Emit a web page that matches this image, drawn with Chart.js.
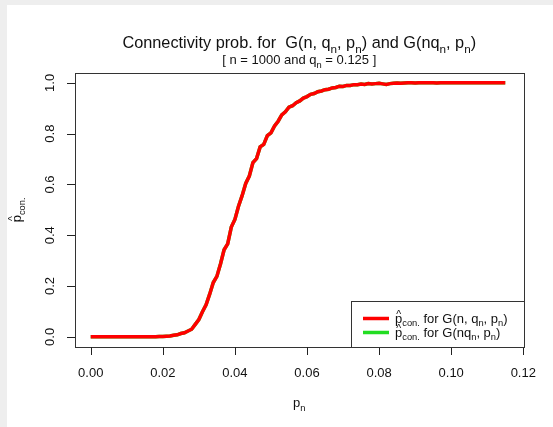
<!DOCTYPE html>
<html>
<head>
<meta charset="utf-8">
<script src="https://cdn.jsdelivr.net/npm/chart.js@4.4.0/dist/chart.umd.min.js"></script>
<style>
html,body{margin:0;padding:0;background:#fff;}
#wrap{width:553px;height:427px;position:relative;}
</style>
</head>
<body>
<div id="wrap"><canvas id="c" width="553" height="427"></canvas></div>
<script>
// ---- data ----
const pValues = [
 0.000,0.001,0.002,0.003,0.004,0.005,0.006,0.007,0.008,0.009,
 0.010,0.011,0.012,0.013,0.014,0.015,0.016,0.017,0.018,0.019,
 0.020,0.021,0.022,0.023,0.024,0.025,0.026,0.027,0.028,0.029,
 0.030,0.031,0.032,0.033,0.034,0.035,0.036,0.037,0.038,0.039,
 0.040,0.041,0.042,0.043,0.044,0.045,0.046,0.047,0.048,0.049,
 0.050,0.051,0.052,0.053,0.054,0.055,0.056,0.057,0.058,0.059,
 0.060,0.061,0.062,0.063,0.064,0.065,0.066,0.067,0.068,0.069,
 0.070,0.071,0.072,0.073,0.074,0.075,0.076,0.077,0.078,0.079,
 0.080,0.081,0.082,0.083,0.084,0.085,0.086,0.087,0.088,0.089,
 0.090,0.091,0.092,0.093,0.094,0.095,0.096,0.097,0.098,0.099,
 0.100,0.101,0.102,0.103,0.104,0.105,0.106,0.107,0.108,0.109,
 0.110,0.111,0.112,0.113,0.114,0.115
];
const conProbG = [
 0,0,0,0,0,0,0,0,0,0,
 0,0,0,0,0,0,0,0,0,0.001,
 0.001,0.002,0.003,0.006,0.008,0.013,0.016,0.023,0.030,0.049,
 0.068,0.099,0.126,0.168,0.214,0.238,0.287,0.343,0.366,0.432,
 0.462,0.514,0.556,0.604,0.633,0.686,0.702,0.748,0.758,0.792,
 0.803,0.830,0.849,0.874,0.886,0.904,0.910,0.922,0.929,0.940,
 0.946,0.955,0.958,0.965,0.968,0.973,0.975,0.980,0.982,0.987,
 0.986,0.990,0.990,0.993,0.993,0.995,0.994,0.997,0.996,0.997,
 0.998,0.996,0.994,0.997,0.998,0.999,0.998,0.999,1.000,1.000,
 0.999,1.000,1.000,1.000,1.000,1.000,0.999,1.000,1.000,1.000,
 1.000,1.000,1.000,1.000,1.000,1.000,1.000,1.000,1.000,1.000,
 1.000,1.000,1.000,1.000,1.000,1.000
];
const conProbGnq = [
 0,0,0,0,0,0,0,0,0,0,
 0,0,0,0,0,0,0,0,0,0.001,
 0.001,0.002,0.003,0.006,0.008,0.013,0.016,0.023,0.030,0.049,
 0.068,0.099,0.126,0.168,0.214,0.238,0.287,0.343,0.366,0.432,
 0.462,0.514,0.556,0.604,0.633,0.686,0.702,0.748,0.758,0.792,
 0.803,0.830,0.849,0.874,0.886,0.904,0.910,0.922,0.929,0.940,
 0.946,0.955,0.958,0.965,0.968,0.973,0.975,0.980,0.982,0.987,
 0.986,0.990,0.990,0.993,0.993,0.995,0.994,0.997,0.996,0.997,
 0.998,0.996,0.994,0.997,0.998,0.999,0.998,0.999,1.000,1.000,
 0.999,1.000,1.000,1.000,1.000,1.000,0.999,1.000,1.000,1.000,
 1.000,1.000,1.000,1.000,1.000,1.000,1.000,1.000,1.000,1.000,
 1.000,1.000,1.000,1.000,1.000,1.000
];
const xTicks = [0.00,0.02,0.04,0.06,0.08,0.10,0.12];
const xTickLabels = ["0.00","0.02","0.04","0.06","0.08","0.10","0.12"];
const yTicks = [0.0,0.2,0.4,0.6,0.8,1.0];
const yTickLabels = ["0.0","0.2","0.4","0.6","0.8","1.0"];

const FONT = '"Liberation Sans", Arial, Helvetica, sans-serif';
const INK = '#111';

// ---- math-ish text helpers ----
function partFont(size, kind){ return (kind==='s' ? (size*0.72) : size) + 'px ' + FONT; }
function mathWidth(ctx, parts, size){
  let w = 0;
  for (const [t,k] of parts){ ctx.font = partFont(size,k); w += ctx.measureText(t).width; }
  return w;
}
function drawMath(ctx, parts, x, y, size, align){
  ctx.save();
  ctx.textAlign = 'left'; ctx.textBaseline = 'alphabetic'; ctx.fillStyle = INK;
  const w = mathWidth(ctx, parts, size);
  let cx = align==='center' ? x - w/2 : x;
  for (const [t,k] of parts){
    ctx.font = partFont(size,k);
    const tw = ctx.measureText(t).width;
    if (k==='s'){ ctx.fillText(t, cx, y + size*0.3); }
    else if (k==='h'){
      ctx.fillText(t, cx, y);
      ctx.font = (size*0.8)+'px '+FONT;
      ctx.textAlign='center';
      ctx.fillText('^', cx + tw/2, y - size*0.38);
      ctx.textAlign='left';
      ctx.font = partFont(size,k);
    }
    else { ctx.fillText(t, cx, y); }
    cx += tw;
  }
  ctx.restore();
}

const decor = {
  id:'decor',
  beforeDraw(chart){
    const ctx = chart.ctx;
    ctx.save();
    ctx.fillStyle = '#eeeeee';
    ctx.fillRect(0,0,553,427);
    ctx.fillStyle = '#ffffff';
    ctx.fillRect(7,5,546,422);
    ctx.restore();
  },
  afterDraw(chart){
    const ctx = chart.ctx;
    const a = chart.chartArea;
    const xs = chart.scales.x, ys = chart.scales.y;
    ctx.save();
    // plot frame
    ctx.strokeStyle = '#333'; ctx.lineWidth = 1;
    ctx.strokeRect(Math.round(a.left)+0.5, Math.round(a.top)+0.5,
                   Math.round(a.right-a.left), Math.round(a.bottom-a.top));
    // x ticks
    ctx.strokeStyle = '#222';
    ctx.fillStyle = INK;
    ctx.font = '13px ' + FONT;
    ctx.textAlign = 'center'; ctx.textBaseline = 'middle';
    xTicks.forEach((v,i)=>{
      const px = Math.round(xs.getPixelForValue(v))+0.5;
      ctx.beginPath(); ctx.moveTo(px, Math.round(a.bottom)); ctx.lineTo(px, Math.round(a.bottom)+8); ctx.stroke();
      ctx.fillText(xTickLabels[i], xs.getPixelForValue(v), 373);
    });
    // y ticks
    yTicks.forEach((v,i)=>{
      const py = Math.round(ys.getPixelForValue(v))+0.5;
      ctx.beginPath(); ctx.moveTo(Math.round(a.left), py); ctx.lineTo(Math.round(a.left)-8, py); ctx.stroke();
      ctx.save();
      ctx.translate(50, ys.getPixelForValue(v));
      ctx.rotate(-Math.PI/2);
      ctx.fillText(yTickLabels[i], 0, 0);
      ctx.restore();
    });
    ctx.restore();

    const cxMid = (a.left + a.right)/2;
    // titles
    drawMath(ctx, [["Connectivity prob. for  G(n, q",'n'],["n",'s'],[", p",'n'],["n",'s'],[") and G(nq",'n'],["n",'s'],[", p",'n'],["n",'s'],[")",'n']], cxMid, 48, 16.3, 'center');
    drawMath(ctx, [["[ n = 1000 and q",'n'],["n",'s'],[" = 0.125 ]",'n']], cxMid, 64, 13, 'center');
    // x title
    drawMath(ctx, [["p",'n'],["n",'s']], cxMid, 407, 13, 'center');
    // y title
    ctx.save();
    ctx.translate(21, (a.top+a.bottom)/2);
    ctx.rotate(-Math.PI/2);
    drawMath(ctx, [["p",'h'],["con.",'s']], 0, 0, 13, 'center');
    ctx.restore();

    // legend
    ctx.save();
    const lx = 351, ly = 301, lw = Math.round(a.right) - lx, lh = Math.round(a.bottom) - ly;
    ctx.fillStyle = '#fff';
    ctx.fillRect(lx, ly, lw, lh);
    ctx.strokeStyle = '#333'; ctx.lineWidth = 1;
    ctx.strokeRect(lx+0.5, ly+0.5, lw, lh);
    const rows = [
      {c:'#ff0000', y:318.5, parts:[["p",'h'],["con.",'s'],[" for G(n, q",'n'],["n",'s'],[", p",'n'],["n",'s'],[")",'n']]},
      {c:'#22dd22', y:332.5, parts:[["p",'h'],["con.",'s'],[" for G(nq",'n'],["n",'s'],[", p",'n'],["n",'s'],[")",'n']]}
    ];
    rows.forEach(r=>{
      ctx.strokeStyle = r.c; ctx.lineWidth = 3.5;
      ctx.beginPath(); ctx.moveTo(363, r.y); ctx.lineTo(389, r.y); ctx.stroke();
      drawMath(ctx, r.parts, 395, r.y + 4, 13, 'left');
    });
    ctx.restore();
  }
};

const greenData = pValues.map((p,i)=>({x:p, y:conProbGnq[i]}));
const redData = pValues.map((p,i)=>({x:p, y:conProbG[i]}));

new Chart(document.getElementById('c'), {
  type:'line',
  data:{
    datasets:[
      {label:'G', data:redData, borderColor:'#ff0000', borderWidth:3.5, pointRadius:0, tension:0, fill:false, order:0},
      {label:'Gnq', data:greenData, borderColor:'#22dd22', borderWidth:3.5, pointRadius:0, tension:0, fill:false, order:1}
    ]
  },
  options:{
    responsive:false, animation:false, devicePixelRatio:1,
    layout:{padding:{top:72.7, right:29.5, left:0, bottom:0}},
    plugins:{legend:{display:false}, title:{display:false}, tooltip:{enabled:false}},
    scales:{
      x:{type:'linear', min:-0.00436, max:0.12006,
         ticks:{display:false}, grid:{display:false}, border:{display:false},
         afterFit(s){ s.height = 80; }},
      y:{type:'linear', min:-0.04, max:1.04,
         ticks:{display:false}, grid:{display:false}, border:{display:false},
         afterFit(s){ s.width = 75; }}
    }
  },
  plugins:[decor]
});
</script>
</body>
</html>
